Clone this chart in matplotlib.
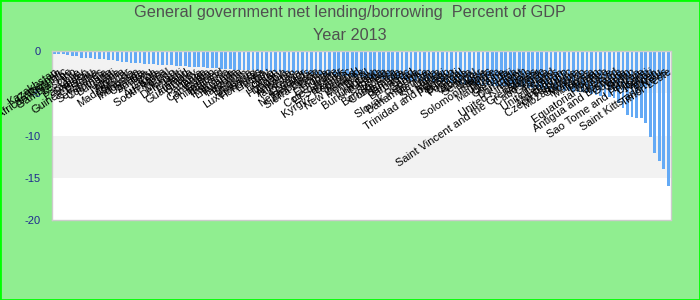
import matplotlib

matplotlib.use("Agg", force=True)

import matplotlib.pyplot as plt
from matplotlib.patches import Rectangle

plt.rcParams["font.family"] = ["Liberation Sans", "DejaVu Sans"]

TITLE = "General government net lending/borrowing  Percent of GDP"
SUBTITLE = "Year 2013"

countries = [
    "Kazakhstan", "Cameroon", "Central African Republic", "Gambia, The", "Lesotho",
    "Chile", "Paraguay", "Sweden", "Guinea-Bissau", "Estonia",
    "Seychelles", "Colombia", "Bulgaria", "Mali", "Nigeria",
    "Algeria", "Madagascar", "Malaysia", "Indonesia", "Uganda",
    "Austria", "Peru", "Latvia", "Australia", "South Africa",
    "Nepal", "Mexico", "Denmark", "Haiti", "Finland",
    "Guatemala", "Turkey", "Panama", "Tonga", "Cambodia",
    "Gabon", "Philippines", "Thailand", "Romania", "Lithuania",
    "Rwanda", "Tanzania", "Belgium", "Moldova", "Luxembourg",
    "Honduras", "Liberia", "Italy", "Bolivia", "Oman",
    "Hungary", "Zambia", "Armenia", "Tajikistan", "Kenya",
    "Ecuador", "Netherlands", "Zimbabwe", "Sierra Leone", "Benin",
    "Ethiopia", "Togo", "Cote d'Ivoire", "El Salvador", "Belarus",
    "Kyrgyz Republic", "Poland", "New Zealand", "Mongolia", "Brazil",
    "Uruguay", "Burkina Faso", "Canada", "Serbia", "Bangladesh",
    "Costa Rica", "Namibia", "Jamaica", "Barbados", "Chad",
    "Ghana", "Slovak Republic", "Bahamas, The", "Vietnam", "India",
    "Sri Lanka", "Malawi", "Trinidad and Tobago", "Pakistan", "Burundi",
    "Portugal", "Croatia", "Albania", "Senegal", "Niger",
    "France", "Solomon Islands", "Belize", "Mauritania", "Ukraine",
    "Grenada", "Fiji", "Dominica", "Egypt", "United Kingdom",
    "Spain", "Saint Vincent and the Grenadines", "Vanuatu", "Cabo Verde", "Georgia",
    "Ireland", "United States", "Lebanon", "Montenegro", "Czech Republic",
    "Mozambique", "Slovenia", "Morocco", "Maldives", "Tunisia",
    "Bhutan", "Jordan", "Equatorial Guinea", "Greece", "Iceland",
    "Antigua and Barbuda", "Guyana", "Japan", "Sudan", "Eritrea",
    "Sao Tome and Principe", "Djibouti", "Kiribati", "Yemen", "Tuvalu",
    "Saint Kitts and Nevis", "Timor-Leste",
]

net_lending = [
    -0.35, -0.4, -0.4, -0.45, -0.6, -0.65, -0.8, -0.8, -0.85, -0.95,
    -1.0, -1.0, -1.1, -1.1, -1.15, -1.25, -1.3, -1.4, -1.4, -1.45,
    -1.5, -1.5, -1.55, -1.6, -1.6, -1.65, -1.7, -1.75, -1.8, -1.8,
    -1.85, -1.9, -1.9, -1.95, -2.0, -2.0, -2.05, -2.1, -2.1, -2.15,
    -2.2, -2.2, -2.25, -2.3, -2.3, -2.35, -2.4, -2.4, -2.45, -2.5,
    -2.5, -2.55, -2.6, -2.6, -2.65, -2.7, -2.7, -2.75, -2.8, -2.8,
    -2.85, -2.9, -2.9, -2.95, -3.0, -3.0, -3.05, -3.1, -3.1, -3.15,
    -3.2, -3.2, -3.25, -3.3, -3.3, -3.35, -3.4, -3.4, -3.45, -3.5,
    -3.5, -3.55, -3.6, -3.6, -3.65, -3.7, -3.7, -3.75, -3.8, -3.8,
    -3.85, -3.9, -3.9, -3.95, -4.0, -4.0, -4.05, -4.1, -4.1, -4.15,
    -4.2, -4.2, -4.25, -4.3, -4.3, -4.35, -4.4, -4.4, -4.45, -4.5,
    -4.55, -4.6, -4.65, -4.7, -4.75, -4.8, -4.85, -4.9, -5.0, -5.1,
    -5.2, -5.3, -5.4, -5.5, -5.6, -6.2, -6.7, -7.6, -7.8, -7.9,
    -7.9, -8.5, -10.2, -12.1, -13.0, -14.0, -16.0,
]

y_ticks = [0, -5, -10, -15, -20]

fig = plt.figure(figsize=(7, 3), dpi=100, facecolor="#90ee90")
ax = fig.add_axes([52 / 700, 80 / 300, 618.5 / 700, 169 / 300])
ax.set_facecolor("white")

positions = list(range(len(net_lending)))
ax.axhspan(-5, 0, color="#f2f2f2", zorder=0, lw=0)
ax.axhspan(-15, -10, color="#f2f2f2", zorder=0, lw=0)
ax.bar(positions, net_lending, width=0.6, color="#64aaf5", zorder=2)

# category labels sit inside the plot, just under the zero line
for pos, name in zip(positions, countries):
    ax.text(pos, -1.85, name, rotation=34, rotation_mode="anchor",
            ha="right", va="top", fontsize=8, color="black",
            clip_on=False, zorder=3)

ax.set_xlim(-0.5, len(net_lending) - 0.5)
ax.set_ylim(-20, 0)
ax.set_xticks([])
ax.set_yticks(y_ticks)
ax.set_yticklabels([str(t) for t in y_ticks])
ax.tick_params(axis="y", length=0, pad=8, labelsize=8, labelcolor="#1f2a8f")
for spine in ax.spines.values():
    spine.set_color("#cccccc")
    spine.set_linewidth(1)

fig.text(0.5, 1 - 13 / 300, TITLE, ha="center", va="center",
         fontsize=11.7, color="#505050")
fig.text(0.5, 1 - 36 / 300, SUBTITLE, ha="center", va="center",
         fontsize=11.7, color="#505050")

fig.patches.append(Rectangle((0, 0), 1, 1, transform=fig.transFigure,
                             fill=False, edgecolor="#00ff00", lw=2))

fig.savefig("out.png", dpi=100, facecolor=fig.get_facecolor())
